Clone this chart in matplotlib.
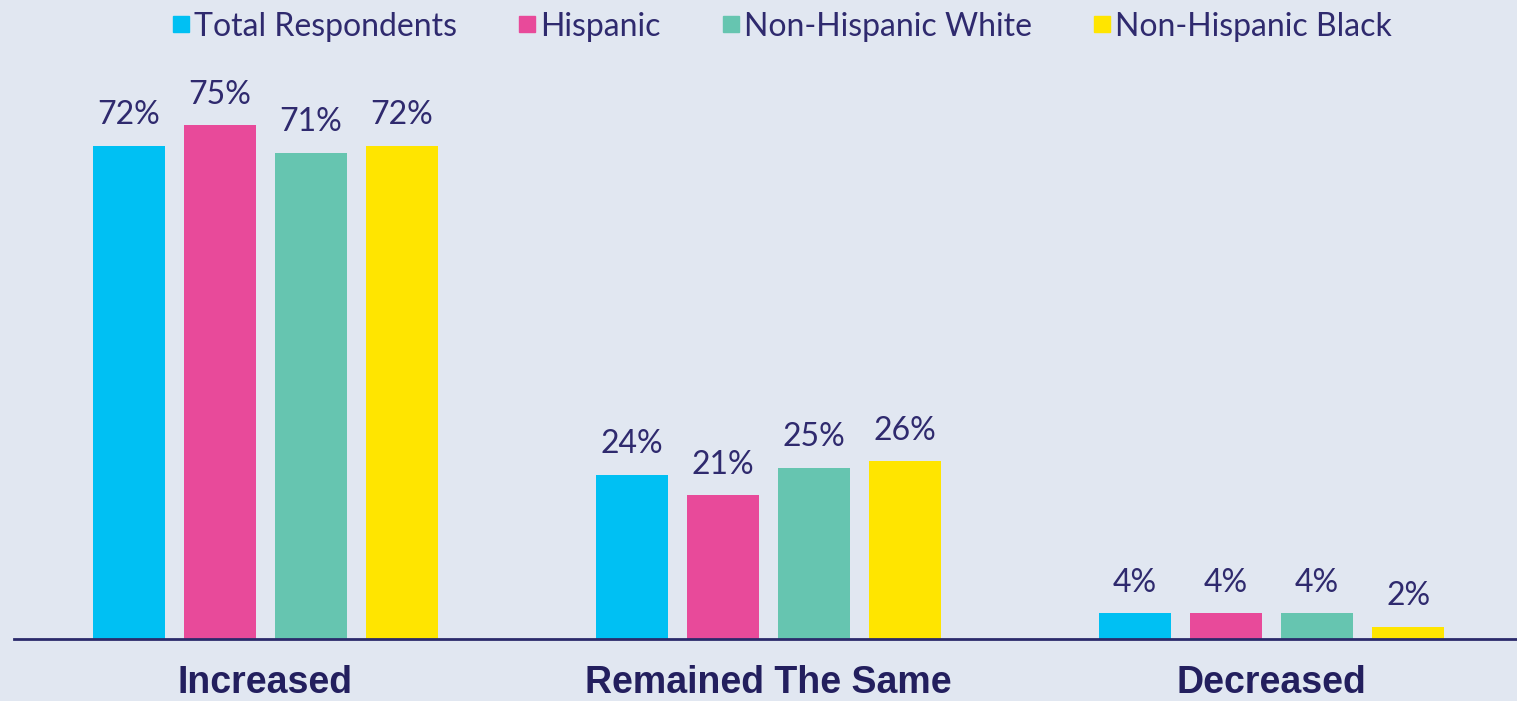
import matplotlib.pyplot as plt
import numpy as np
from matplotlib.lines import Line2D

# data
categories = ['Increased', 'Remained The Same', 'Decreased']
series_names = ['Total Respondents', 'Hispanic', 'Non-Hispanic White', 'Non-Hispanic Black']
total = [72, 24, 3.8]
hispanic = [75, 21, 3.8]
nh_white = [71, 25, 3.8]
nh_black = [72, 26, 1.8]
labels_total = ['72%', '24%', '4%']
labels_hispanic = ['75%', '21%', '4%']
labels_white = ['71%', '25%', '4%']
labels_black = ['72%', '26%', '2%']

colors = ['#00C0F3', '#E84A9A', '#66C5B0', '#FFE500']
bg = '#E1E7F1'
navy = '#231F5E'
label_col = '#2F2A6E'

fig = plt.figure(figsize=(15.17, 7.01), dpi=100, facecolor=bg)
ax = fig.add_axes([0.0092, 0.0884, 0.9908, 0.826])
ax.set_facecolor(bg)

x = np.arange(len(categories))
width = 0.143
step = 0.181
all_vals = [total, hispanic, nh_white, nh_black]
all_labels = [labels_total, labels_hispanic, labels_white, labels_black]

for i, (vals, labs) in enumerate(zip(all_vals, all_labels)):
    pos = x + (i - 1.5) * step
    bars = ax.bar(pos, vals, width, color=colors[i], label=series_names[i])
    ax.bar_label(bars, labels=labs, padding=11, fontsize=23, color=label_col,
                 family='Lato', fontweight='normal')

ax.set_xlim(-0.5, 2.488)
ax.set_ylim(0, 84.5)
ax.set_xticks(x)
ax.set_xticklabels(categories, fontsize=27, fontweight='bold', color=navy, family='Liberation Sans')
ax.tick_params(axis='x', length=0, pad=19)
ax.set_yticks([])
for s in ['top', 'right', 'left']:
    ax.spines[s].set_visible(False)
ax.spines['bottom'].set_color('#2B2A6B')
ax.spines['bottom'].set_linewidth(2)

handles = [Line2D([0], [0], marker='s', linestyle='', markersize=11,
                  markerfacecolor=c, markeredgecolor=c) for c in colors]
leg = fig.legend(handles, series_names, loc='center', bbox_to_anchor=(0.512, 0.962),
                 ncol=4, frameon=False, handletextpad=-0.2, columnspacing=1.6,
                 handlelength=1.2, prop={'family': 'Lato', 'weight': 'normal', 'size': 23})
for t in leg.get_texts():
    t.set_color(label_col)

plt.savefig('out.png', dpi=100, facecolor=bg)
